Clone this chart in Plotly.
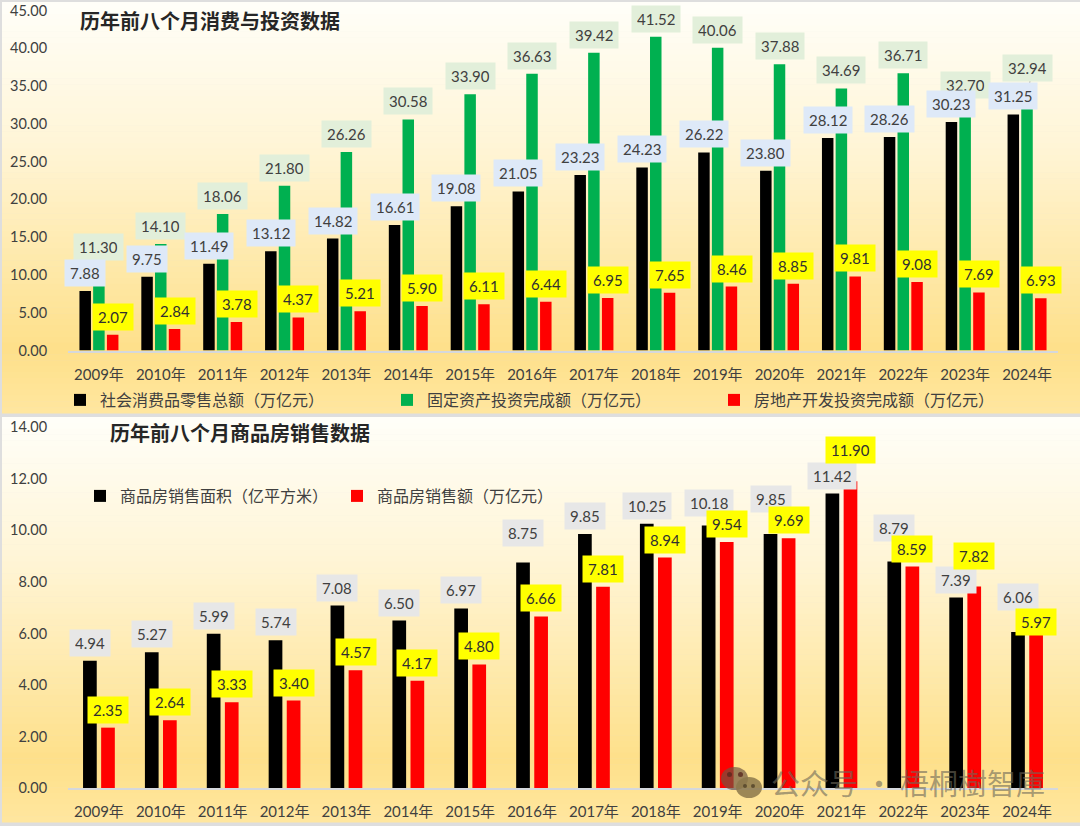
import plotly.graph_objects as go

years = ["2009年","2010年","2011年","2012年","2013年","2014年","2015年","2016年","2017年","2018年","2019年","2020年","2021年","2022年","2023年","2024年"]
retail = [7.88,9.75,11.49,13.12,14.82,16.61,19.08,21.05,23.23,24.23,26.22,23.80,28.12,28.26,30.23,31.25]
fixed_inv = [11.30,14.10,18.06,21.80,26.26,30.58,33.90,36.63,39.42,41.52,40.06,37.88,34.69,36.71,32.70,32.94]
property_inv = [2.07,2.84,3.78,4.37,5.21,5.90,6.11,6.44,6.95,7.65,8.46,8.85,9.81,9.08,7.69,6.93]
sales_area = [4.94,5.27,5.99,5.74,7.08,6.50,6.97,8.75,9.85,10.25,10.18,9.85,11.42,8.79,7.39,6.06]
sales_value = [2.35,2.64,3.33,3.40,4.57,4.17,4.80,6.66,7.81,8.94,9.54,9.69,11.90,8.59,7.82,5.97]

W, H = 1080, 826
BLACK, GREEN, RED = "#000000", "#00B050", "#FF0000"
TXT = "#404040"
FONT = "Lato, 'Noto Sans CJK SC', sans-serif"
CJK = "'Noto Sans CJK SC', sans-serif"
PX = 61.9  # one category in pixels

# manual label lifts (px above bar top) where the original labels were dragged
LIFT_TOP = {"fixed": {"2024年": 34}}
LIFT_BOT = {
    "area": {"2016年": 29, "2019年": 23, "2020年": 35, "2022年": 33, "2024年": 35},
    "value": {"2021年": 31, "2023年": 30, "2024年": 12},
}

fig = go.Figure()

def bars(name, vals, color, offset_px, width_px, xa, ya, legend):
    fig.add_trace(go.Bar(
        x=years, y=vals, name=name, xaxis=xa, yaxis=ya, legend=legend,
        marker=dict(color=color, line=dict(width=0)),
        width=width_px / PX, offset=offset_px / PX,
    ))

bars("社会消费品零售总额（万亿元）", retail, BLACK, -19.5, 11.5, "x", "y", "legend")
bars("固定资产投资完成额（万亿元）", fixed_inv, GREEN, -5.8, 11.5, "x", "y", "legend")
bars("房地产开发投资完成额（万亿元）", property_inv, RED, 8.0, 11.5, "x", "y", "legend")
bars("商品房销售面积（亿平方米）", sales_area, BLACK, -15.9, 13.7, "x2", "y2", "legend2")
bars("商品房销售额（万亿元）", sales_value, RED, 2.2, 13.7, "x2", "y2", "legend2")

def labels(vals, xref, yref, xshift, bg, color, lift=None, default=18):
    lift = lift or {}
    for yr, v in zip(years, vals):
        fig.add_annotation(
            x=yr, y=v, xref=xref, yref=yref, text=f"{v:.2f}", showarrow=False,
            xshift=xshift, yshift=lift.get(yr, default), xanchor="center", yanchor="middle",
            bgcolor=bg, borderpad=5, height=16, font=dict(family=FONT, size=15, color=color),
        )

# leader lines under the labels
fig.add_shape(type="line", xref="paper", yref="paper", x0=1030/W, x1=1027/W, y0=1-81/H, y1=1-101/H,
              line=dict(color="#A6A6A6", width=1), layer="above")

labels(fixed_inv, "x", "y", 0, "#E2EFDA", TXT, LIFT_TOP["fixed"])
labels(retail, "x", "y", -13.7, "#DEE9F8", TXT)
labels(property_inv, "x", "y", 13.9, "#FFFF00", "#303030")
labels(sales_area, "x2", "y2", -9, "#E7E7E7", TXT, LIFT_BOT["area"])
labels(sales_value, "x2", "y2", 9.1, "#FFFF00", "#303030", LIFT_BOT["value"])

# panel gradients
def lerp(a, b, t):
    return tuple(round(a[i] + (b[i] - a[i]) * t) for i in range(3))

stops = [(0.0, (255,254,248)), (0.35, (255,245,214)), (0.85, (254,224,138)), (1.0, (255,230,158))]
def grad(t):
    for (t0, c0), (t1, c1) in zip(stops, stops[1:]):
        if t <= t1:
            return lerp(c0, c1, (t - t0) / (t1 - t0))
    return stops[-1][1]

def panel(y0, y1, n=70):
    for i in range(n):
        a = y0 + (y1 - y0) * i / n
        b = y0 + (y1 - y0) * (i + 1) / n + 0.5
        fig.add_shape(type="rect", xref="paper", yref="paper", x0=2/W, x1=1, y0=1-b/H, y1=1-a/H,
                      fillcolor="rgb(%d,%d,%d)" % grad(i / (n - 1)), line=dict(width=0), layer="below")
panel(2, 413)
panel(417, 822)

# WeChat-style watermark glyph
for x0, x1, y0, y1, c in [
    (721, 748, 767, 790, "rgba(110,85,65,0.68)"),
    (736, 762, 777, 798, "rgba(140,120,75,0.85)"),
    (727, 732, 772, 777, "rgba(90,40,30,0.8)"),
    (738, 743, 772, 777, "rgba(90,40,30,0.8)"),
    (743, 747, 784, 788, "rgba(80,65,40,0.8)"),
    (751, 755, 784, 788, "rgba(80,65,40,0.8)"),
]:
    fig.add_shape(type="circle", xref="paper", yref="paper", x0=x0/W, x1=x1/W, y0=1-y1/H, y1=1-y0/H,
                  fillcolor=c, line=dict(width=0), layer="above")
fig.add_annotation(xref="paper", yref="paper", x=769/W, y=1-782/H, xanchor="left", yanchor="middle",
                   showarrow=False, text="公众号 · 梧桐樹智庫",
                   font=dict(family=CJK, size=29, color="rgba(110,105,90,0.62)"))

fig.add_annotation(xref="paper", yref="paper", x=78/W, y=1-20/H, xanchor="left", yanchor="middle", showarrow=False,
                   text="<b>历年前八个月消费与投资数据</b>", font=dict(family=CJK, size=20, color="#262626"))
fig.add_annotation(xref="paper", yref="paper", x=108/W, y=1-432/H, xanchor="left", yanchor="middle", showarrow=False,
                   text="<b>历年前八个月商品房销售数据</b>", font=dict(family=CJK, size=20, color="#262626"))

xcommon = dict(type="category", categoryorder="array", categoryarray=years, range=[-0.5, 15.5], showgrid=False,
               showline=True, linecolor="#D5D8DC", linewidth=2, ticks="outside", ticklen=9,
               tickcolor="rgba(0,0,0,0)", tickfont=dict(family=FONT, size=15, color=TXT), zeroline=False,
               automargin=False)
ycommon = dict(showgrid=False, showline=False, zeroline=False, ticks="outside", ticklen=17, tickcolor="rgba(0,0,0,0)",
               tickformat=".2f", tickfont=dict(family=FONT, size=14.5, color=TXT), automargin=False)

legfont = dict(family=FONT, size=16, color=TXT)
fig.update_layout(
    width=W, height=H, autosize=False, margin=dict(l=0, r=0, t=0, b=0, autoexpand=False),
    paper_bgcolor="#DEDEDE", plot_bgcolor="rgba(0,0,0,0)", barmode="group", showlegend=True,
    xaxis=dict(domain=[68/W, 1058/W], anchor="y", **xcommon),
    yaxis=dict(domain=[1-350.5/H, 1-10.5/H], anchor="x", range=[0, 45], dtick=5, **ycommon),
    xaxis2=dict(domain=[68/W, 1058/W], anchor="y2", **xcommon),
    yaxis2=dict(domain=[1-788.3/H, 1-427/H], anchor="x2", range=[0, 14], dtick=2, **ycommon),
    legend=dict(orientation="h", x=60/W, y=1-400/H, xanchor="left", yanchor="middle", bgcolor="rgba(0,0,0,0)",
                entrywidth=282, entrywidthmode="pixels", font=legfont, traceorder="normal", itemclick=False),
    legend2=dict(orientation="h", x=80/W, y=1-496/H, xanchor="left", yanchor="middle", bgcolor="rgba(0,0,0,0)",
                 entrywidth=212, entrywidthmode="pixels", font=legfont, traceorder="normal", itemclick=False),
)

fig.write_html("out.html", post_script="document.body.style.margin='0';document.body.style.overflow='hidden';",
               config={"displayModeBar": False})
